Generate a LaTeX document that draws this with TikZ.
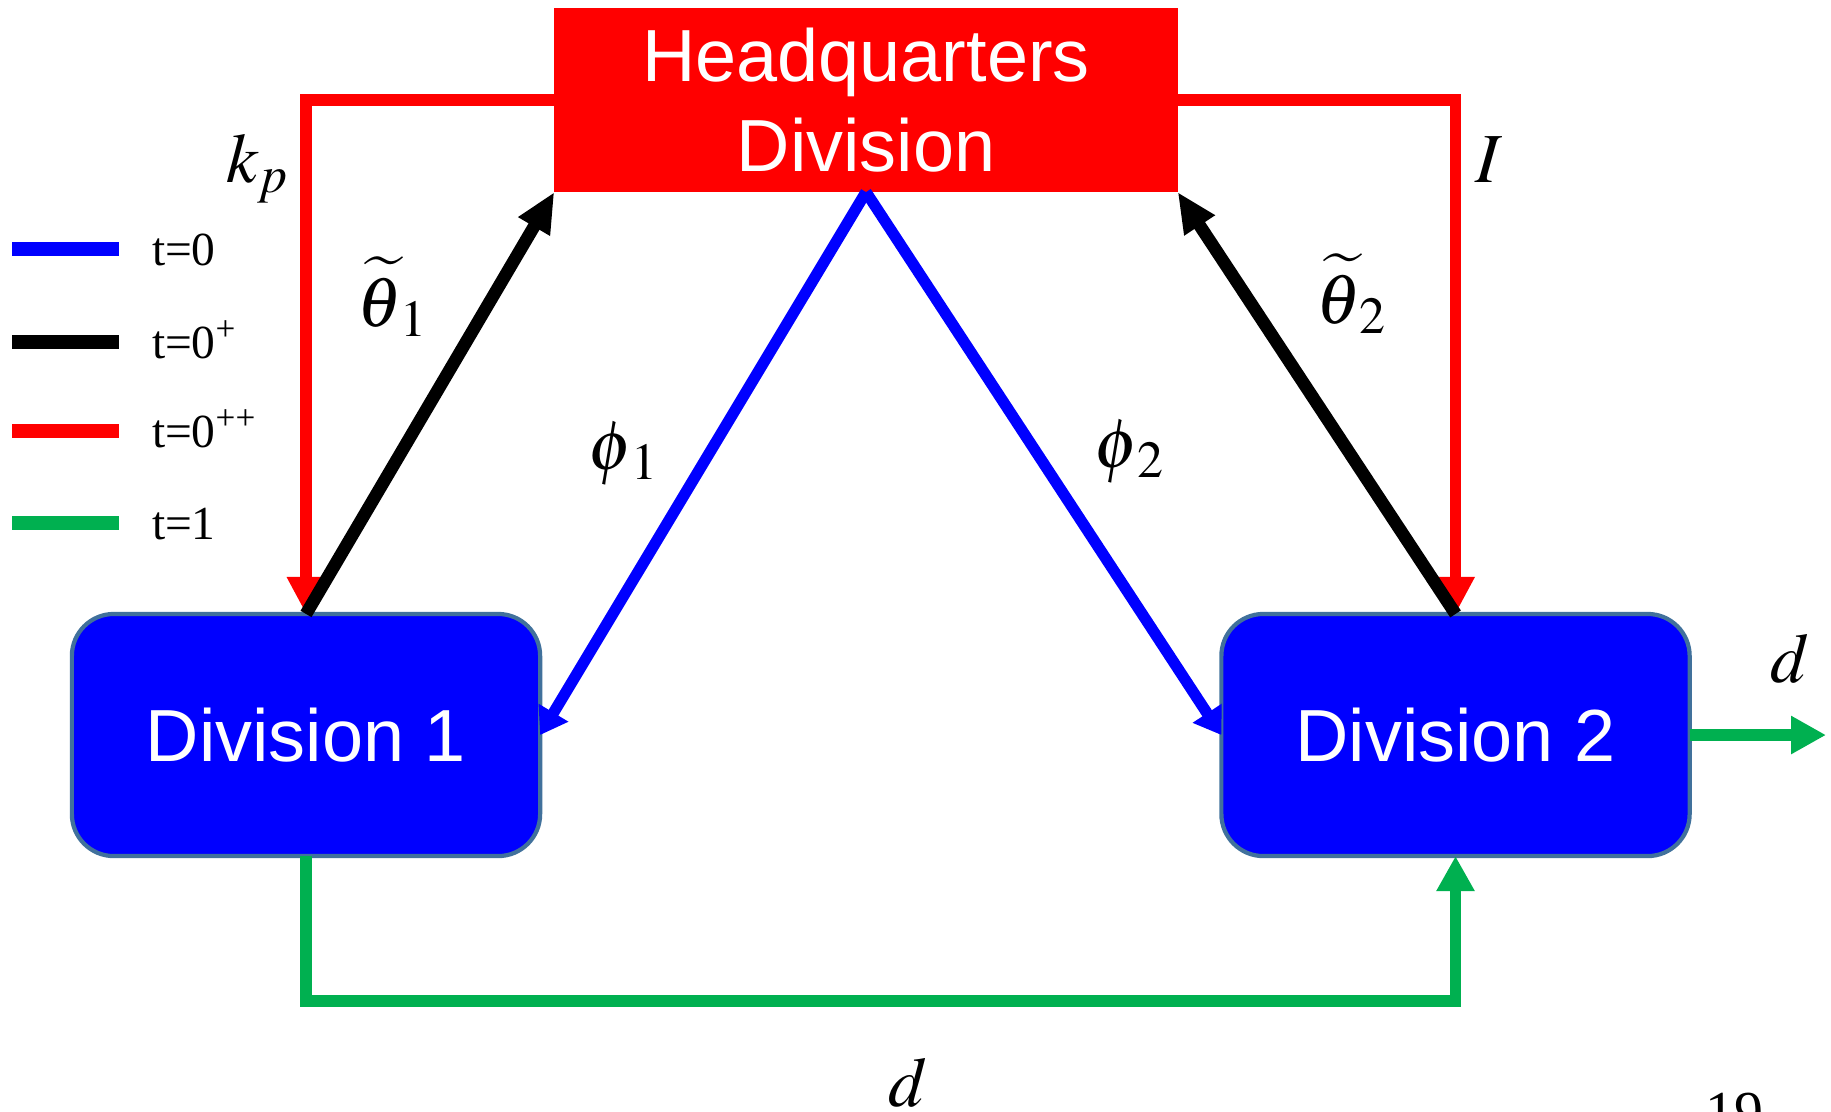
\documentclass[tikz,border=0pt]{standalone}
\usepackage{mathptmx}
\usepackage[no-math]{fontspec}
\setmainfont{Liberation Serif}
\newfontfamily\arialfam{Liberation Sans}
\usepackage{xcolor}
\usepackage{tikz}
\usetikzlibrary{positioning,arrows.meta,calc}
\definecolor{hqred}{HTML}{FF0000}
\definecolor{divblue}{HTML}{0000FF}
\definecolor{divedge}{HTML}{41719C}
\definecolor{flowgreen}{HTML}{00B050}

\begin{document}
\begin{tikzpicture}[
    x=0.01cm, y=-0.01cm,
    every node/.style={inner sep=0pt, outer sep=0pt},
    hqbox/.style={fill=hqred, minimum width=6.23cm, minimum height=1.84cm,
                  text=white, align=center, font=\arialfam\fontsize{21}{25.6}\selectfont},
    divbox/.style={fill=divblue, draw=divedge, line width=1.2pt, rounded corners=0.42cm,
                   minimum width=4.68cm, minimum height=2.42cm,
                   text=white, font=\arialfam\fontsize{21}{25}\selectfont},
    lnblue/.style={divblue, line width=3.2pt, -{Triangle[length=2.6mm, width=3.3mm]}},    % t=0
    lnblack/.style={black, line width=3.6pt, -{Triangle[length=4mm, width=3.4mm]}},       % t=0+
    lnred/.style={hqred, line width=3.3pt, -{Triangle[length=3.7mm, width=3.6mm]}},       % t=0++
    lngreen/.style={flowgreen, line width=3.3pt, -{Triangle[length=3.5mm, width=3.6mm]}}, % t=1
    legln/.style={line width=3.8pt},
    legtxt/.style={anchor=base west, font=\fontsize{13.5}{16}\selectfont},
    lbl/.style={anchor=base, font=\fontsize{20}{24}\selectfont}
  ]
  \useasboundingbox (0,0) rectangle (1831,1111);
  \clip (0,0) rectangle (1831,1111);

  % ============ les trois divisions ======================================
  \node[hqbox]  (hq)   at (866,100)    {Headquarters\\Division};
  \node[divbox] (div1) at (306,735)    {Division 1};
  \node[divbox] (div2) at (1455.5,735) {Division 2};

  % ============ legende ==================================================
  \foreach \col/\ly/\lab in {divblue/249/{t=0}, black/342/{t=0\textsuperscript{+}},
                             hqred/431/{t=0\textsuperscript{++}}, flowgreen/523/{t=1}} {
    \draw[legln, \col] (12,\ly) -- (119,\ly);
    \node[legtxt] (leg\ly) at (152,\ly+16) {\lab};
  }

  % ============ flux =====================================================
  \draw[lnred] (hq.west) -| (div1.north);              % k_p
  \draw[lnred] (hq.east) -| (div2.north);              % I
  \draw[lnblack] (div1.north) -- (hq.south west);
  \draw[lnblack] (div2.north) -- (hq.south east);
  \draw[lnblue] (hq.south) -- (div1.east);
  \draw[lnblue] (hq.south) -- (div2.west);
  \draw[lngreen] (div1.south) -- ++(0,145) -| (div2.south);
  \coordinate (dout) at (1826,735);
  \draw[lngreen] (div2.east) -- (dout);

  % ============ etiquettes ===============================================
  \node[lbl] (lkp)  at (258,182)  {$k_p$};
  \node[lbl] (lth1) at (393,326)  {$\widetilde{\theta}_{\,1}$};
  \node[lbl] (lph1) at (624,469)  {$\phi_{\,1}$};
  \node[lbl] (lph2) at (1130,467) {$\phi_{\,2}$};
  \node[lbl] (lth2) at (1352,323) {$\widetilde{\theta}_{\,2}$};
  \node[lbl] (lI)   at (1489,182) {$I$};
  \node[lbl] (ldr)  at (1790,682) {$d$};
  \node[lbl] (ldb)  at (908,1106) {$d$};
  \node[anchor=base, font=\fontsize{16.5}{20}\selectfont] (pgnum) at (1734,1131) {19};

\end{tikzpicture}
\end{document}
